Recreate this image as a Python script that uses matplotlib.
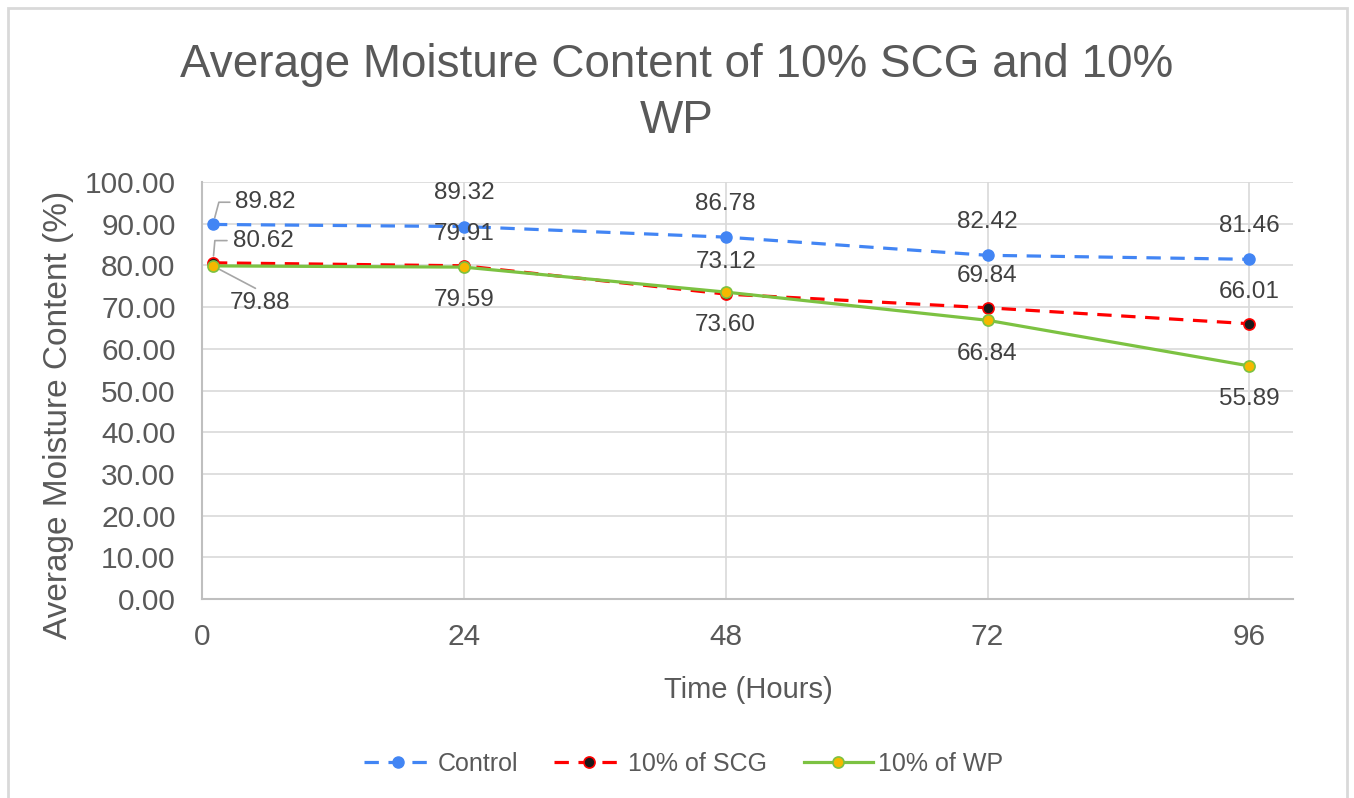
import matplotlib
matplotlib.use("Agg")
import matplotlib.pyplot as plt
from matplotlib.patches import Rectangle

plt.rcParams['font.family'] = ['Liberation Sans', 'DejaVu Sans']

# data
hours = [1, 24, 48, 72, 96]
control = [89.82, 89.32, 86.78, 82.42, 81.46]
scg = [80.62, 79.91, 73.12, 69.84, 66.01]
wp = [79.88, 79.59, 73.60, 66.84, 55.89]
x_ticks = [0, 24, 48, 72, 96]
y_ticks = [0, 10, 20, 30, 40, 50, 60, 70, 80, 90, 100]

TXT = '#595959'
LBL = '#404040'
GRID = '#d9d9d9'

fig = plt.figure(figsize=(13.54, 7.98), dpi=100)
ax = fig.add_axes([202 / 1354, 1 - 599 / 798, 1091 / 1354, 417 / 798])

# chart frame
fig.patches.append(Rectangle((8 / 1354, -0.05), 1339 / 1354, 1.05 - 8 / 798,
                             transform=fig.transFigure, fill=False,
                             edgecolor='#d9d9d9', linewidth=2))

ax.plot(hours, control, color='#4285f4', lw=2.3, dashes=(4.5, 3),
        marker='o', ms=8, mfc='#4285f4', mec='#4285f4', label='Control', zorder=3)
ax.plot(hours, scg, color='#ff0000', lw=2.3, dashes=(4.5, 3),
        marker='o', ms=8, mfc='#1a1a1a', mec='#ff0000', mew=1.2, label='10% of SCG', zorder=4)
ax.plot(hours, wp, color='#7cc242', lw=2.3,
        marker='o', ms=8, mfc='#f5b800', mec='#7cc242', mew=1.2, label='10% of WP', zorder=5)

# data labels
for i in range(1, len(hours)):
    ax.annotate(f'{control[i]:.2f}', (hours[i], control[i]), xytext=(0, 24),
                textcoords='offset points', ha='center', va='center', fontsize=17.5, color=LBL)
    ax.annotate(f'{scg[i]:.2f}', (hours[i], scg[i]), xytext=(0, 23),
                textcoords='offset points', ha='center', va='center', fontsize=17.5, color=LBL)
    ax.annotate(f'{wp[i]:.2f}', (hours[i], wp[i]), xytext=(0, -24),
                textcoords='offset points', ha='center', va='center', fontsize=17.5, color=LBL)

# first point labels were dragged aside, with leader lines
lead = dict(arrowstyle='-', color='#a6a6a6', lw=1.2, shrinkA=2, shrinkB=5)
ax.annotate(f'{control[0]:.2f}', (hours[0], control[0]), xytext=(38, 16),
            textcoords='offset points', ha='center', va='center', fontsize=17.5, color=LBL,
            arrowprops=dict(lead, relpos=(0, 0.5), connectionstyle='angle,angleA=180,angleB=75,rad=0'))
ax.annotate(f'{scg[0]:.2f}', (hours[0], scg[0]), xytext=(36, 16),
            textcoords='offset points', ha='center', va='center', fontsize=17.5, color=LBL,
            arrowprops=dict(lead, relpos=(0, 0.5), connectionstyle='angle,angleA=180,angleB=85,rad=0'))
ax.annotate(f'{wp[0]:.2f}', (hours[0], wp[0]), xytext=(34, -27),
            textcoords='offset points', ha='center', va='center', fontsize=17.5, color=LBL,
            arrowprops=dict(lead, relpos=(0.55, 1.0)))

ax.set_xlim(0, 100)
ax.set_ylim(0, 100)
ax.set_xticks(x_ticks)
ax.set_yticks(y_ticks)
ax.set_yticklabels([f'{v:.2f}' for v in y_ticks])
ax.tick_params(length=0, labelsize=21.5, labelcolor=TXT)
ax.tick_params(axis='y', pad=19)
ax.tick_params(axis='x', pad=17)
ax.grid(True, color=GRID, lw=1.2)
ax.set_axisbelow(True)
for s in ['top', 'right']:
    ax.spines[s].set_visible(False)
for s in ['left', 'bottom']:
    ax.spines[s].set_color('#bfbfbf')
    ax.spines[s].set_linewidth(1.5)

ax.set_xlabel('Time (Hours)', fontsize=21, color=TXT)
ax.set_ylabel('Average Moisture Content (%)', fontsize=24, color=TXT)
ax.xaxis.set_label_coords(0.5004, -0.185)
ax.yaxis.set_label_coords(-0.117, 0.441)

fig.text(0.5, 1 - 93 / 798, 'Average Moisture Content of 10% SCG and 10%\nWP',
         ha='center', va='center', fontsize=33, color=TXT, linespacing=1.35)

fig.legend(loc='center', bbox_to_anchor=(0.5045, 1 - 764 / 798), ncol=3, frameon=False,
           fontsize=18, labelcolor=TXT, handlelength=2.76, handletextpad=0.2, columnspacing=1.45)

fig.savefig('out.png', dpi=100)
